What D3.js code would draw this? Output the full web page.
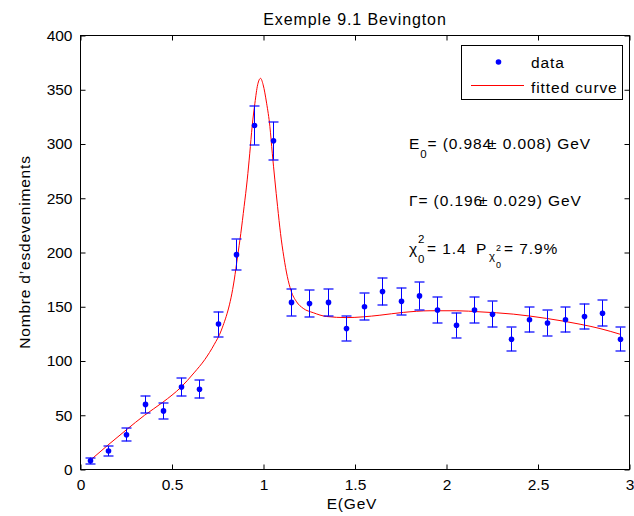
<!DOCTYPE html>
<html>
<head>
<meta charset="utf-8">
<script src="https://cdn.jsdelivr.net/npm/d3@7"></script>
<style>
  body { margin: 0; background: #fff; }
  text { font-family: "Liberation Sans", Arial, Helvetica, sans-serif; fill: #000; }
</style>
</head>
<body>
<svg id="chart" width="634" height="516"></svg>
<script>
// Measured histogram: bin centres (GeV), event counts and their errors
const energy = [0.05, 0.15, 0.25, 0.35, 0.45, 0.55, 0.65, 0.75, 0.85, 0.95,
                1.05, 1.15, 1.25, 1.35, 1.45, 1.55, 1.65, 1.75, 1.85, 1.95,
                2.05, 2.15, 2.25, 2.35, 2.45, 2.55, 2.65, 2.75, 2.85, 2.95];
const counts = [8, 17, 32, 60, 54, 76, 74, 134, 198, 317,
                303, 154, 153, 154, 130, 150, 164, 155, 160, 147,
                133, 147, 143, 120, 138, 135, 138, 141, 144, 120];
const errors = [3, 4.5, 6, 8, 7.5, 8.5, 8.5, 11.5, 14, 17.8,
                17.4, 12.4, 12.4, 12.4, 11.4, 12.3, 12.8, 12.5, 12.6, 12.1,
                11.5, 12.1, 12, 10.9, 11.7, 11.6, 11.7, 11.9, 12, 10.9];

// Fitted curve (resonance peak on a smooth background)
const fitE = [0.05, 0.15, 0.25, 0.35, 0.45, 0.55, 0.62, 0.68, 0.73, 0.77,
              0.84, 0.858, 0.876, 0.894, 0.911, 0.925, 0.938, 0.953, 0.968, 0.984,
              0.998, 1.017, 1.035, 1.048, 1.062, 1.077, 1.093, 1.111, 1.13, 1.15,
              1.181, 1.217, 1.272, 1.345, 1.454, 1.545, 1.636, 1.764, 1.91, 2.056,
              2.183, 2.365, 2.548, 2.73, 2.839, 2.95];
const fitN = [8, 22.5, 36.5, 50, 62, 76, 89, 101.5, 115, 128.5,
              174.6, 196, 217.6, 242.3, 266.9, 291.5, 316.2, 337.6, 354.6, 360.5,
              354.6, 337.6, 316, 291.5, 266.9, 242.3, 217.6, 196, 178, 165,
              154.5, 148.5, 144.5, 141, 140, 140.7, 142.2, 144.8, 146.3, 146.3,
              145.3, 143.2, 139.2, 133.9, 129.9, 124.6];

const xTicks = [0, 0.5, 1, 1.5, 2, 2.5, 3];
const yTicks = [0, 50, 100, 150, 200, 250, 300, 350, 400];

const svg = d3.select("#chart");
const plotL = 80.5, plotR = 629.5, plotT = 35.5, plotB = 469.5;

const x = d3.scaleLinear().domain([0, 3]).range([plotL, plotR]);
const y = d3.scaleLinear().domain([0, 400]).range([plotB, plotT]);

const tickFont = 15.5;
const fmt = d => d3.format("~g")(d);

// Axes: box frame with inward ticks on all four sides
const gx = svg.append("g").attr("transform", `translate(0,${plotB})`)
  .call(d3.axisBottom(x).tickValues(xTicks).tickFormat(fmt).tickSizeInner(-5).tickSizeOuter(0).tickPadding(9));
const gxt = svg.append("g").attr("transform", `translate(0,${plotT})`)
  .call(d3.axisTop(x).tickValues(xTicks).tickFormat("").tickSizeInner(-5).tickSizeOuter(0));
const gy = svg.append("g").attr("transform", `translate(${plotL},0)`)
  .call(d3.axisLeft(y).tickValues(yTicks).tickFormat(fmt).tickSizeInner(-5).tickSizeOuter(0).tickPadding(8));
const gyr = svg.append("g").attr("transform", `translate(${plotR},0)`)
  .call(d3.axisRight(y).tickValues(yTicks).tickFormat("").tickSizeInner(-5).tickSizeOuter(0));

[gx, gxt, gy, gyr].forEach(g => {
  g.select(".domain").remove();
  g.selectAll("line").attr("stroke", "#000");
  g.selectAll("text").attr("font-size", tickFont).attr("font-family", null).style("fill", "#000");
});
svg.append("rect").attr("x", plotL).attr("y", plotT)
  .attr("width", plotR - plotL).attr("height", plotB - plotT)
  .attr("fill", "none").attr("stroke", "#000").attr("stroke-width", 1);

// Fitted curve
const line = d3.line().x((d, i) => x(fitE[i])).y(d => y(d)).curve(d3.curveMonotoneX);
svg.append("path").datum(fitN).attr("d", line)
  .attr("fill", "none").attr("stroke", "#ff0000").attr("stroke-width", 1);

// Error bars
const eb = svg.append("g");
energy.forEach((e, i) => {
  const cx = Math.round(x(e)) + 0.5;
  const y1 = y(counts[i] + errors[i]), y2 = y(counts[i] - errors[i]);
  eb.append("line").attr("x1", cx).attr("x2", cx).attr("y1", y1).attr("y2", y2)
    .attr("stroke", "#0000ff").attr("stroke-width", 1);
  [y1, y2].forEach(yy => {
    eb.append("line").attr("x1", cx - 5).attr("x2", cx + 5)
      .attr("y1", Math.round(yy)).attr("y2", Math.round(yy))
      .attr("stroke", "#0000ff").attr("stroke-width", 1.2);
  });
});

// Data points
svg.append("g").selectAll("circle").data(counts).join("circle")
  .attr("cx", (d, i) => Math.round(x(energy[i])) + 0.5)
  .attr("cy", d => y(d))
  .attr("r", 2.8).attr("fill", "#0000ff");

// Title and axis labels
svg.append("text").attr("x", 355).attr("y", 25).attr("text-anchor", "middle")
  .attr("font-size", 16).attr("letter-spacing", 0.9).text("Exemple 9.1 Bevington");
svg.append("text").attr("x", 352).attr("y", 509).attr("text-anchor", "middle")
  .attr("font-size", 15.5).attr("letter-spacing", 0.8).text("E(GeV");
svg.append("text").attr("transform", "translate(30,252) rotate(-90)")
  .attr("text-anchor", "middle").attr("font-size", 15.5).attr("letter-spacing", 0.8)
  .text("Nombre d\u2019esdeveniments");

// Legend
const lg = svg.append("g").attr("letter-spacing", 0.9);
lg.append("rect").attr("x", 461.5).attr("y", 45.5).attr("width", 161).attr("height", 54)
  .attr("fill", "#fff").attr("stroke", "#000").attr("stroke-width", 1);
lg.append("circle").attr("cx", 498.5).attr("cy", 62).attr("r", 2.8).attr("fill", "#0000ff");
lg.append("text").attr("x", 531).attr("y", 67.5).attr("font-size", 15.5).text("data");
lg.append("line").attr("x1", 471).attr("x2", 524).attr("y1", 85.5).attr("y2", 85.5)
  .attr("stroke", "#ff0000").attr("stroke-width", 1);
lg.append("text").attr("x", 531).attr("y", 92.5).attr("font-size", 15.5).text("fitted curve");

// Fit results
const ann = svg.append("g").attr("font-size", 15.5).attr("letter-spacing", 0.9);
const t1 = ann.append("text").attr("x", 409).attr("y", 148.5);
t1.append("tspan").text("E");
t1.append("tspan").attr("font-size", 11.5).attr("dy", 9).text("0");
t1.append("tspan").attr("dy", -9).text("= (0.984");
t1.append("tspan").attr("dx", -4).text("\u00b1 0.008) GeV");

const t2 = ann.append("text").attr("x", 409).attr("y", 205.5);
t2.append("tspan").text("\u0393= (0.196");
t2.append("tspan").attr("dx", -4).text("\u00b1 0.029) GeV");

ann.append("text").attr("x", 409).attr("y", 253.5).text("\u03c7");
ann.append("text").attr("x", 418).attr("y", 243).attr("font-size", 11.5).text("2");
ann.append("text").attr("x", 418).attr("y", 263).attr("font-size", 11.5).text("0");
ann.append("text").attr("x", 427).attr("y", 253.5).text("= 1.4");
ann.append("text").attr("x", 476).attr("y", 253.5).text("P");
ann.append("text").attr("x", 489).attr("y", 260).attr("font-size", 11.5).text("\u03c7");
ann.append("text").attr("x", 496).attr("y", 251).attr("font-size", 9).text("2");
ann.append("text").attr("x", 496).attr("y", 268).attr("font-size", 9).text("0");
ann.append("text").attr("x", 504).attr("y", 253.5).text("= 7.9%");
</script>
</body>
</html>
